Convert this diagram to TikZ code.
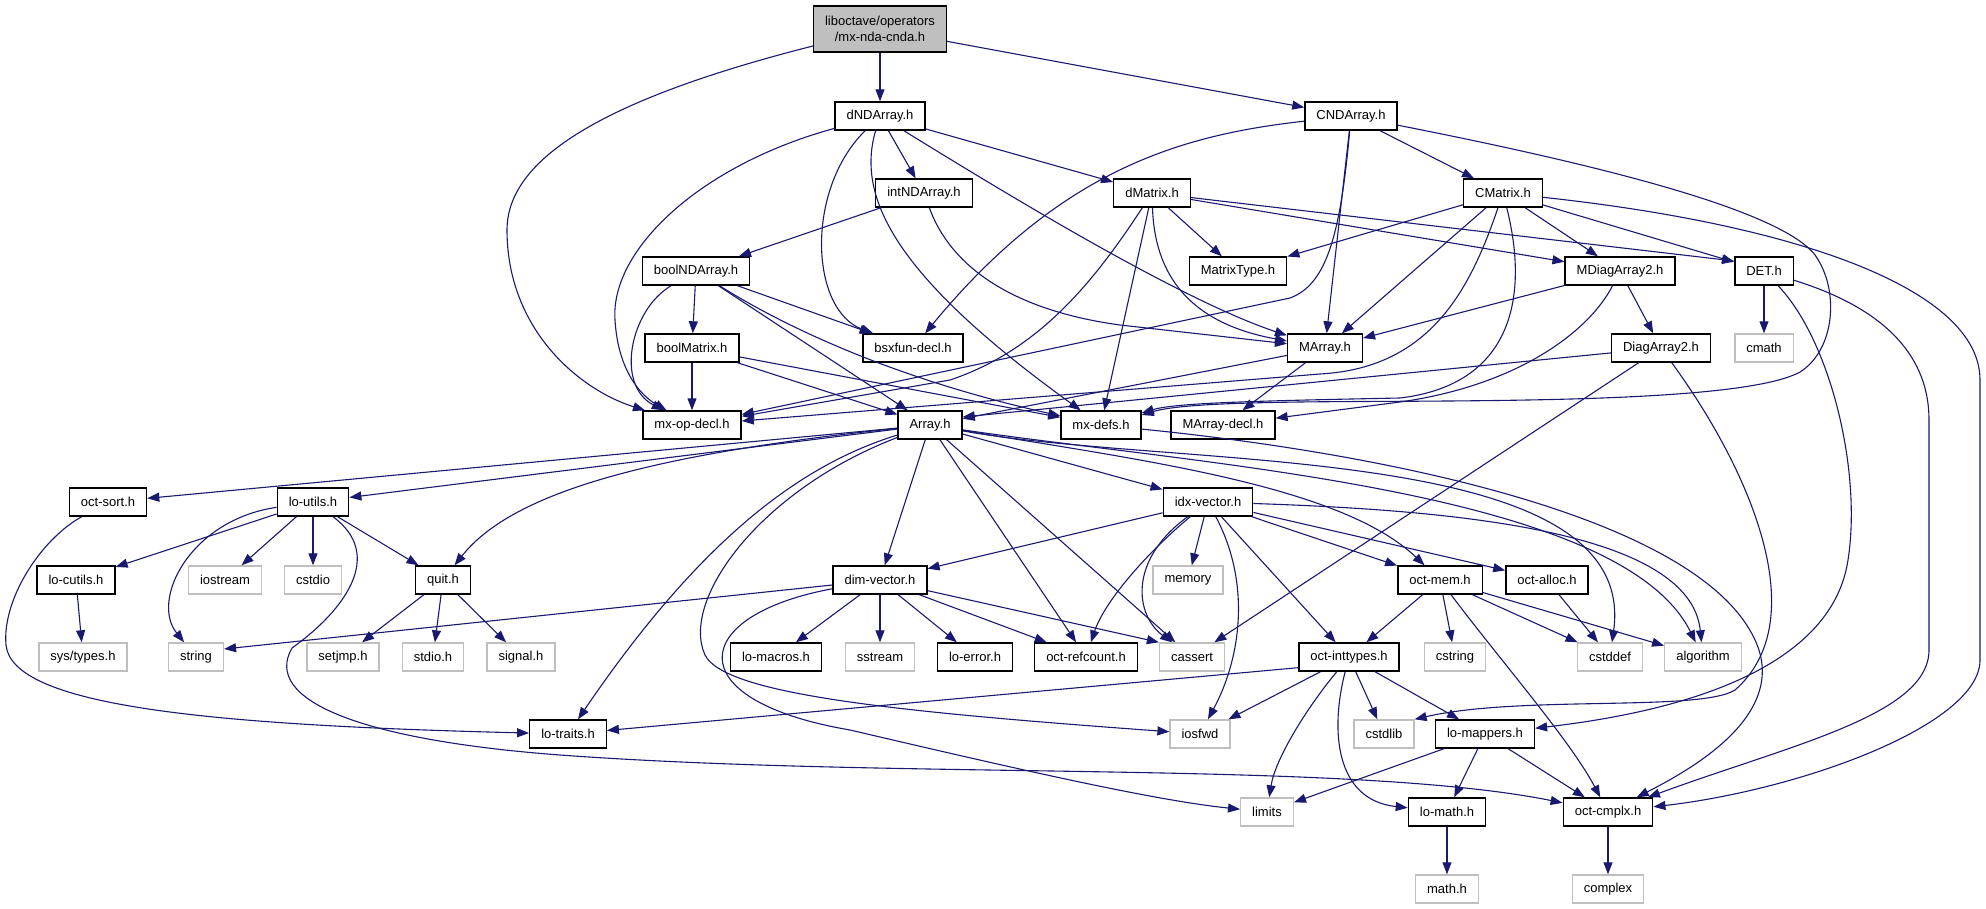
\documentclass[tikz,border=0pt]{standalone}
\usepackage{fontspec}
\setmainfont{Liberation Sans}
\usetikzlibrary{arrows.meta}
\definecolor{depblue}{HTML}{191970}
\definecolor{sysgray}{HTML}{BFBFBF}
\begin{document}
\begin{tikzpicture}[x=0.5pt,y=-0.5pt,
    box/.style={draw=black, line width=0.7pt, fill=white, font=\fontsize{6.5}{7.8}\selectfont, inner xsep=5.75pt, inner ysep=0pt, minimum height=14pt},
    sys/.style={box, draw=sysgray},
    dep/.style={draw=depblue, line width=0.55pt, -{Stealth[inset=0pt,length=6pt,width=4.5pt]}}]
  \useasboundingbox (0,0) rectangle (1986,909);
  \node[box, fill=sysgray, align=center, minimum height=23pt] (root) at (880,29) {liboctave/operators\\/mx-nda-cnda.h};
  \node[box] (dNDArray) at (880,116) {dNDArray.h};
  \node[box] (CNDArray) at (1351,116) {CNDArray.h};
  \node[box] (intNDArray) at (924,193) {intNDArray.h};
  \node[box] (dMatrix) at (1152,193) {dMatrix.h};
  \node[box] (CMatrix) at (1503,193) {CMatrix.h};
  \node[box] (boolNDArray) at (696,271) {boolNDArray.h};
  \node[box] (MatrixType) at (1238,271) {MatrixType.h};
  \node[box] (MDiagArray2) at (1620,271) {MDiagArray2.h};
  \node[box] (DET) at (1764,271) {DET.h};
  \node[box] (boolMatrix) at (692,348) {boolMatrix.h};
  \node[box] (bsxfun) at (913,348) {bsxfun-decl.h};
  \node[box] (MArray) at (1325,348) {MArray.h};
  \node[box] (DiagArray2) at (1661,348) {DiagArray2.h};
  \node[sys] (cmath) at (1764,348) {cmath};
  \node[box] (mxopdecl) at (692,425) {mx-op-decl.h};
  \node[box] (Array) at (930,425) {Array.h};
  \node[box] (mxdefs) at (1101,425) {mx-defs.h};
  \node[box] (MArraydecl) at (1223,425) {MArray-decl.h};
  \node[box] (octsort) at (108,502) {oct-sort.h};
  \node[box] (loutils) at (313,502) {lo-utils.h};
  \node[box] (idxvector) at (1208,502) {idx-vector.h};
  \node[box] (locutils) at (76,580) {lo-cutils.h};
  \node[sys] (iostream) at (225,580) {iostream};
  \node[sys] (cstdio) at (313,580) {cstdio};
  \node[box] (quit) at (443,580) {quit.h};
  \node[box] (dimvector) at (880,580) {dim-vector.h};
  \node[sys] (memory) at (1188,580) {memory};
  \node[box] (octmem) at (1440,580) {oct-mem.h};
  \node[box] (octalloc) at (1547,580) {oct-alloc.h};
  \node[sys] (systypes) at (83,657) {sys/types.h};
  \node[sys] (string) at (196,657) {string};
  \node[sys] (setjmp) at (343,657) {setjmp.h};
  \node[sys] (stdio) at (433,657) {stdio.h};
  \node[sys] (signal) at (521,657) {signal.h};
  \node[box] (lomacros) at (776,657) {lo-macros.h};
  \node[sys] (sstream) at (880,657) {sstream};
  \node[box] (loerror) at (975,657) {lo-error.h};
  \node[box] (octrefcount) at (1086,657) {oct-refcount.h};
  \node[sys] (cassert) at (1192,657) {cassert};
  \node[box] (octinttypes) at (1349,657) {oct-inttypes.h};
  \node[sys] (cstring) at (1455,657) {cstring};
  \node[sys] (cstddef) at (1610,657) {cstddef};
  \node[sys] (algorithm) at (1703,657) {algorithm};
  \node[box] (lotraits) at (568,734) {lo-traits.h};
  \node[sys] (iosfwd) at (1200,734) {iosfwd};
  \node[sys] (cstdlib) at (1384,734) {cstdlib};
  \node[box] (lomappers) at (1485,734) {lo-mappers.h};
  \node[sys] (limits) at (1267,812) {limits};
  \node[box] (lomath) at (1447,812) {lo-math.h};
  \node[box] (octcmplx) at (1608,812) {oct-cmplx.h};
  \node[sys] (mathh) at (1447,889) {math.h};
  \node[sys] (complex) at (1608,889) {complex};

  \foreach \a/\b in {root/dNDArray, root/CNDArray, dNDArray/intNDArray, dNDArray/dMatrix,
      intNDArray/boolNDArray, CNDArray/MArray, CNDArray/CMatrix, dMatrix/mxdefs, dMatrix/MatrixType,
      dMatrix/MDiagArray2, CMatrix/MatrixType, CMatrix/MArray, CMatrix/MDiagArray2, CMatrix/DET,
      boolNDArray/boolMatrix, boolNDArray/Array, boolNDArray/bsxfun, boolMatrix/mxopdecl,
      boolMatrix/Array, boolMatrix/mxdefs, MDiagArray2/MArray, MDiagArray2/DiagArray2, DET/cmath,
      MArray/Array, MArray/MArraydecl, DiagArray2/cassert, Array/octsort, Array/loutils,
      Array/dimvector, Array/octrefcount, Array/cassert, Array/idxvector, loutils/locutils,
      loutils/iostream, loutils/cstdio, loutils/quit, locutils/systypes, quit/setjmp, quit/stdio,
      quit/signal, dimvector/lomacros, dimvector/sstream, dimvector/loerror, dimvector/octrefcount,
      idxvector/dimvector, idxvector/memory, idxvector/octinttypes, idxvector/octmem,
      idxvector/octalloc, octmem/octinttypes, octmem/cstring, octmem/cstddef, octmem/algorithm,
      octalloc/cstddef, octinttypes/iosfwd, octinttypes/cstdlib, octinttypes/lomappers,
      lomappers/limits, lomappers/lomath, lomappers/octcmplx, lomath/mathh, octcmplx/complex}
    \draw[dep] (\a) -- (\b);

  \draw[dep] (dMatrix) -- ([yshift=5pt]DET.west);
  \draw[dep] (DiagArray2) -- ([yshift=4pt]Array.east);
  \draw[dep] (dimvector) -- ([yshift=4pt]string.east);
  \draw[dep] (dimvector) -- (cassert.north west);
  \draw[dep] ([yshift=2pt]octinttypes.south west) -- (lotraits);

  \draw[dep] (root) .. controls (600,100) and (507,160) .. (507,230) .. controls (507,330) and (580,390) .. (mxopdecl);
  \draw[dep] (dNDArray) .. controls (700,165) and (610,250) .. (615,320) .. controls (618,370) and (640,395) .. (mxopdecl);
  \draw[dep] (boolNDArray) .. controls (630,310) and (615,385) .. (mxopdecl);
  \draw[dep] (CNDArray) .. controls (1340,240) and (1325,285) .. (1290,298) -- (mxopdecl);
  \draw[dep] (dMatrix) .. controls (1095,280) and (1040,350) .. (950,380) -- (mxopdecl);
  \draw[dep] (CMatrix) .. controls (1470,290) and (1430,368) .. (1320,374) -- (mxopdecl);
  \draw[dep] (CMatrix) .. controls (1530,300) and (1510,385) .. (1400,398) .. controls (1250,401) and (1175,403) .. ([yshift=6pt]mxdefs.east);
  \draw[dep] (CNDArray) .. controls (1600,165) and (1780,210) .. (1815,255) .. controls (1840,290) and (1835,350) .. (1800,372)
    .. controls (1740,405) and (1450,400) .. (1300,402) .. controls (1230,403) and (1175,405) .. ([yshift=5pt]mxdefs.east);
  \draw[dep] (MDiagArray2) .. controls (1590,330) and (1520,385) .. (1400,402) -- (MArraydecl);
  \draw[dep] (dNDArray) .. controls (805,190) and (810,310) .. (bsxfun);
  \draw[dep] (dNDArray) .. controls (855,200) and (900,280) .. (mxdefs);
  \draw[dep] (dNDArray) .. controls (1000,190) and (1180,300) .. (MArray);
  \draw[dep] (boolNDArray) .. controls (790,330) and (900,380) .. (mxdefs);
  \draw[dep] (CNDArray) .. controls (1180,135) and (1060,170) .. (bsxfun);
  \draw[dep] (intNDArray) .. controls (950,265) and (1010,310) .. (1120,325) -- (MArray);
  \draw[dep] (dMatrix) .. controls (1155,285) and (1200,325) .. (MArray);
  \draw[dep] (CMatrix) .. controls (1800,225) and (1980,290) .. (1980,380) -- (1980,660) .. controls (1980,725) and (1800,790) .. (octcmplx);
  \draw[dep] (DET) .. controls (1890,310) and (1929,360) .. (1929,420) -- (1929,650) .. controls (1929,715) and (1790,745) .. (octcmplx);
  \draw[dep] (DET) .. controls (1830,340) and (1862,470) .. (1848,560) .. controls (1830,680) and (1650,715) .. (lomappers);
  \draw[dep] (DiagArray2) .. controls (1750,470) and (1815,620) .. (1735,690) .. controls (1700,712) and (1520,695) .. (cstdlib.north east);
  \draw[dep] (mxdefs) .. controls (1400,455) and (1700,520) .. (1755,640) .. controls (1790,715) and (1690,770) .. (octcmplx);

  \draw[dep] (Array) .. controls (640,455) and (510,495) .. (quit);
  \draw[dep] (Array) .. controls (800,465) and (700,540) .. (lotraits);
  \draw[dep] (Array) .. controls (760,490) and (680,600) .. (705,655) .. controls (725,695) and (900,712) .. (iosfwd);
  \draw[dep] (Array) .. controls (1140,460) and (1340,485) .. (octmem);
  \draw[dep] (Array) .. controls (1180,470) and (1640,440) .. (cstddef);
  \draw[dep] (Array) .. controls (1200,465) and (1620,490) .. (algorithm);
  \draw[dep] (idxvector) .. controls (1150,550) and (1105,600) .. (octrefcount);
  \draw[dep] (idxvector) .. controls (1128,560) and (1135,615) .. (cassert);
  \draw[dep] (idxvector) .. controls (1252,585) and (1240,660) .. (iosfwd);
  \draw[dep] (idxvector) .. controls (1450,510) and (1690,530) .. (algorithm);
  \draw[dep] (octmem) .. controls (1500,660) and (1570,740) .. (octcmplx);
  \draw[dep] (octinttypes) .. controls (1305,710) and (1275,760) .. (limits);
  \draw[dep] (octinttypes) .. controls (1330,730) and (1335,800) .. (lomath);
  \draw[dep] (dimvector) .. controls (690,615) and (675,700) .. (850,730) .. controls (1000,765) and (1150,800) .. (limits);
  \draw[dep] (octsort) .. controls (40,540) and (2,600) .. (6,645) .. controls (12,705) and (200,725) .. (lotraits);
  \draw[dep] (loutils) .. controls (190,520) and (150,600) .. (string);
  \draw[dep] (loutils) .. controls (385,555) and (345,610) .. (292,648) .. controls (262,700) and (360,740) .. (560,755)
    .. controls (900,780) and (1350,760) .. (octcmplx);
\end{tikzpicture}
\end{document}
